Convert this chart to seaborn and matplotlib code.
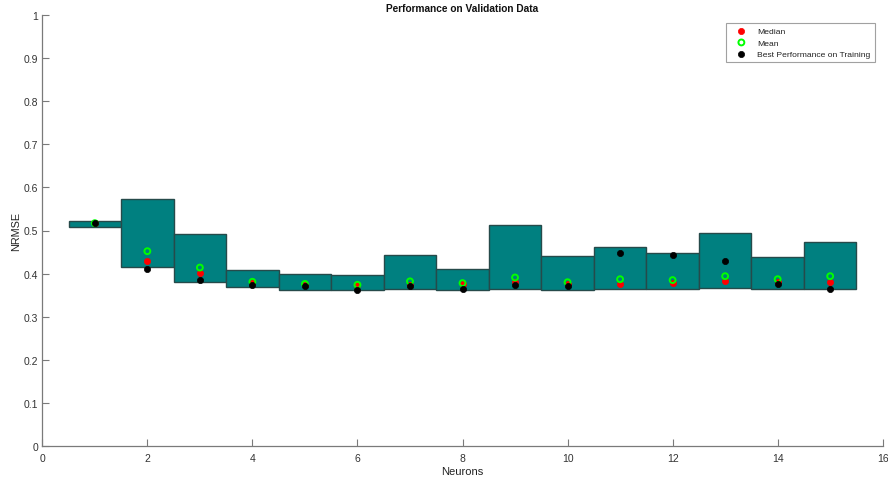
import numpy as np
import pandas as pd
import matplotlib
matplotlib.use("Agg")
import matplotlib.pyplot as plt
import seaborn as sns

# NRMSE on validation data per hidden-layer size
neurons = [1, 2, 3, 4, 5, 6, 7, 8, 9, 10, 11, 12, 13, 14, 15]
nrmse_min = [0.509, 0.416, 0.380, 0.368, 0.362, 0.361, 0.364, 0.363, 0.364,
             0.362, 0.364, 0.364, 0.366, 0.365, 0.364]
nrmse_max = [0.522, 0.573, 0.493, 0.408, 0.398, 0.396, 0.442, 0.410, 0.513,
             0.441, 0.462, 0.448, 0.495, 0.438, 0.473]
nrmse_median = [0.517, 0.430, 0.401, 0.379, 0.374, 0.373, 0.374, 0.376, 0.381,
                0.377, 0.376, 0.379, 0.382, 0.381, 0.380]
nrmse_mean = [0.517, 0.452, 0.414, 0.381, 0.376, 0.374, 0.382, 0.378, 0.391,
              0.380, 0.387, 0.385, 0.394, 0.387, 0.394]
nrmse_best = [0.517, 0.411, 0.384, 0.374, 0.371, 0.363, 0.371, 0.365, 0.374,
              0.371, 0.447, 0.444, 0.429, 0.376, 0.364]

x_ticks = [0, 2, 4, 6, 8, 10, 12, 14, 16]
y_ticks = [0, 0.1, 0.2, 0.3, 0.4, 0.5, 0.6, 0.7, 0.8, 0.9, 1]

df = pd.DataFrame({
    "Neurons": neurons,
    "lo": nrmse_min,
    "hi": nrmse_max,
    "Median": nrmse_median,
    "Mean": nrmse_mean,
    "Best": nrmse_best,
})

sns.set_theme(style="white")
plt.rcParams["font.family"] = ["Liberation Sans", "DejaVu Sans"]

W, H = 888, 481
fig = plt.figure(figsize=(W / 100, H / 100), dpi=100)
left, right, top, bottom = 42.3, 882.7, 16.0, 447.0
ax = fig.add_axes([left / W, (H - bottom) / H, (right - left) / W, (bottom - top) / H])

# range boxes: one unit wide, spanning min..max of the runs
ax.bar(df["Neurons"], df["hi"] - df["lo"], bottom=df["lo"], width=1.0,
       color="#008080", edgecolor="#264a4a", linewidth=1.0, zorder=2)

sns.scatterplot(data=df, x="Neurons", y="Median", ax=ax, marker="o",
                s=20, color="#ff0000", edgecolor="#ff0000", linewidth=0.5,
                label="Median", zorder=3)
sns.scatterplot(data=df, x="Neurons", y="Mean", ax=ax, marker="o",
                s=18, facecolor="none", edgecolor="#00ff00", linewidth=1.4,
                label="Mean", zorder=4)
sns.scatterplot(data=df, x="Neurons", y="Best", ax=ax, marker="o",
                s=20, color="#000000", edgecolor="#000000", linewidth=0.5,
                label="Best Performance on Training", zorder=5)

ax.set_xlim(0, 16)
ax.set_ylim(0, 1)
ax.set_xticks(x_ticks)
ax.set_xticklabels([str(v) for v in x_ticks])
ax.set_yticks(y_ticks)
ax.set_yticklabels([f"{v:g}" for v in y_ticks])

spine_col = "#7a7a7a"
for side in ("top", "right"):
    ax.spines[side].set_visible(False)
for side in ("left", "bottom"):
    ax.spines[side].set_color(spine_col)
    ax.spines[side].set_linewidth(0.9)

ax.tick_params(axis="both", direction="in", length=5, width=0.8,
               color=spine_col, labelsize=7.5, labelcolor="#333333",
               left=True, bottom=True)
ax.tick_params(axis="x", pad=5)
ax.tick_params(axis="y", pad=3)

ax.set_xlabel("Neurons", fontsize=8, color="#222222", labelpad=2)
ax.set_ylabel("NRMSE", fontsize=7.8, color="#222222", labelpad=1.5)
ax.set_title("Performance on Validation Data", fontsize=7.3, fontweight="bold",
             color="#111111", pad=3)

leg = ax.legend(loc="upper right", bbox_to_anchor=(0.9908, 0.9814),
                borderaxespad=0, frameon=True, fancybox=False, fontsize=6.1,
                handletextpad=0.6, labelspacing=0.42, borderpad=0.5,
                handlelength=2.6, markerscale=1.0)
leg.get_frame().set_edgecolor("#8a8a8a")
leg.get_frame().set_linewidth(0.8)
for t in leg.get_texts():
    t.set_color("#222222")

fig.savefig("out.png", dpi=100)
